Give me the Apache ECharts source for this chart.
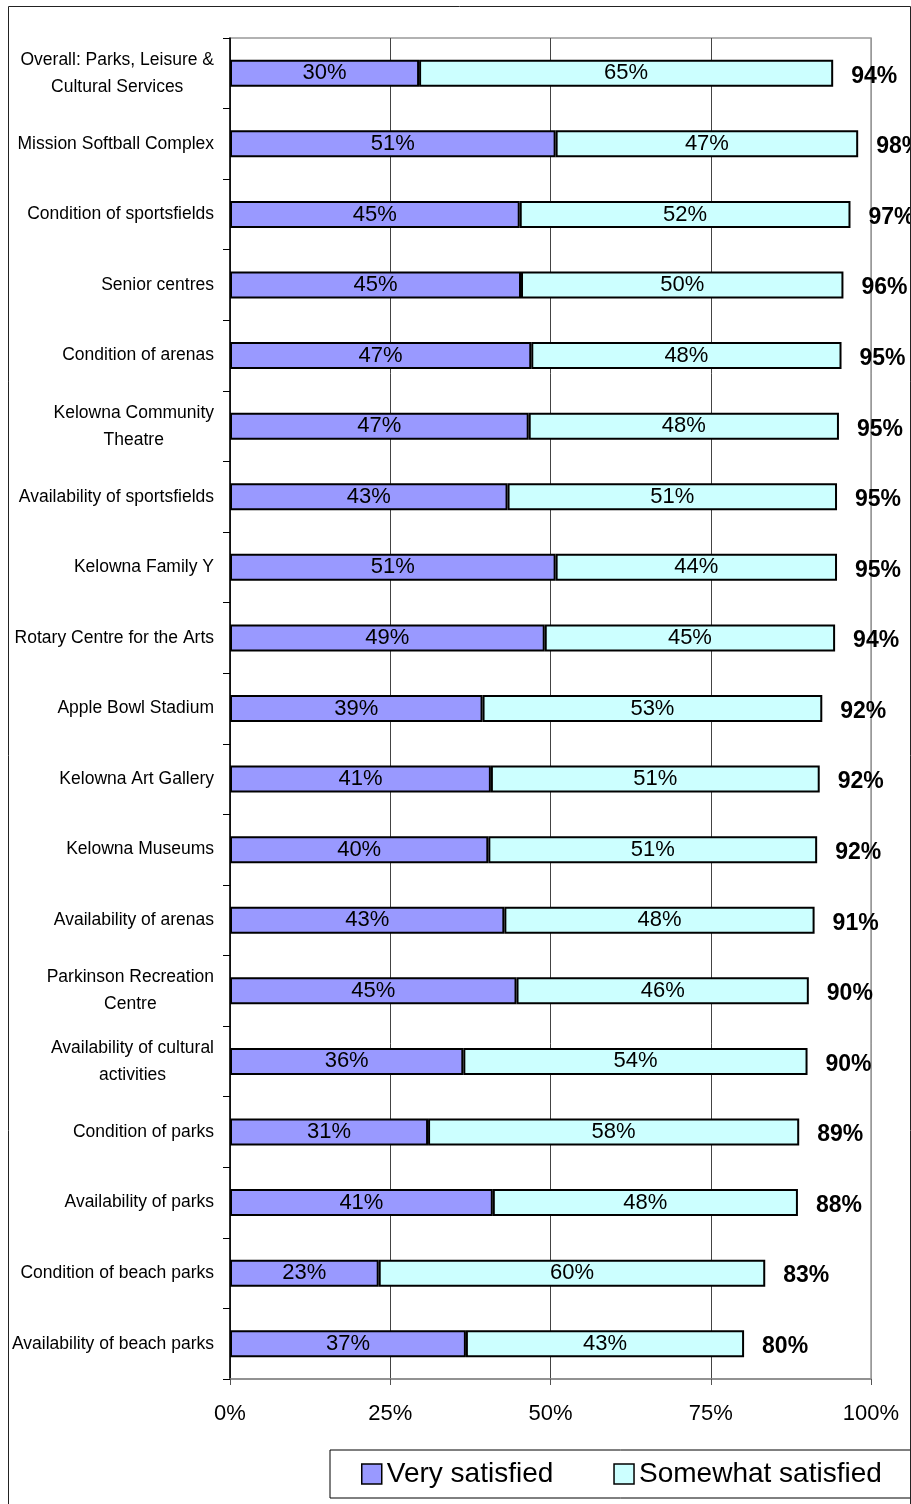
<!DOCTYPE html>
<html>
<head>
<meta charset="utf-8">
<script src="https://cdn.jsdelivr.net/npm/echarts@6/dist/echarts.min.js"></script>
<style>
  html, body { margin: 0; padding: 0; background: #fff; }
  #chart { width: 911px; height: 1504px; }
</style>
</head>
<body>
<div id="chart"></div>
<script>
// categories, top to bottom
const categories = [
  'Overall: Parks, Leisure &\nCultural Services',
  'Mission Softball Complex',
  'Condition of sportsfields',
  'Senior centres',
  'Condition of arenas',
  'Kelowna Community\nTheatre',
  'Availability of sportsfields',
  'Kelowna Family Y',
  'Rotary Centre for the Arts',
  'Apple Bowl Stadium',
  'Kelowna Art Gallery',
  'Kelowna Museums',
  'Availability of arenas',
  'Parkinson Recreation\nCentre',
  'Availability of cultural\nactivities',
  'Condition of parks',
  'Availability of parks',
  'Condition of beach parks',
  'Availability of beach parks'
];

// bar lengths (percent)
const verySatisfied = [29.5, 50.8, 45.2, 45.4, 47.0, 46.6, 43.3, 50.8, 49.1, 39.4,
  40.7, 40.3, 42.8, 44.7, 36.4, 30.9, 41.0, 23.2, 36.8];
const somewhatSatisfied = [64.6, 47.2, 51.6, 50.3, 48.4, 48.4, 51.4, 43.9, 45.3, 53.0,
  51.3, 51.3, 48.4, 45.6, 53.7, 57.9, 47.6, 60.3, 43.4];

// printed labels
const veryLabels = [30, 51, 45, 45, 47, 47, 43, 51, 49, 39, 41, 40, 43, 45, 36, 31, 41, 23, 37];
const somewhatLabels = [65, 47, 52, 50, 48, 48, 51, 44, 45, 53, 51, 51, 48, 46, 54, 58, 48, 60, 43];
const totalLabels = [94, 98, 97, 96, 95, 95, 95, 95, 94, 92, 92, 92, 91, 90, 90, 89, 88, 83, 80];

const xTicks = [0, 25, 50, 75, 100];

const FONT = "'Liberation Sans', Arial, sans-serif";

const totals = verySatisfied.map((v, i) => v + somewhatSatisfied[i]);

const chart = echarts.init(document.getElementById('chart'), null, {renderer: 'canvas'});

chart.setOption({
  animation: false,
  backgroundColor: '#fff',
  grid: {
    left: 230, right: 40, top: 38, bottom: 125,
    show: true, borderColor: '#999', borderWidth: 1.5,
    containLabel: false, outerBoundsMode: 'none'
  },
  xAxis: {
    type: 'value',
    min: xTicks[0],
    max: xTicks[xTicks.length - 1],
    interval: 25,
    axisLine: {show: true, lineStyle: {color: '#888', width: 1.5}},
    axisTick: {show: true, length: 6, lineStyle: {color: '#555'}},
    axisLabel: {
      formatter: '{value}%', margin: 24,
      color: '#000', fontFamily: FONT, fontSize: 22
    },
    splitLine: {show: true, lineStyle: {color: ['#444', '#444', '#444', '#444', '#999'], width: 1}}
  },
  yAxis: {
    type: 'category',
    data: categories,
    inverse: true,
    axisLine: {show: true, lineStyle: {color: '#000', width: 1.5}},
    axisTick: {show: true, length: 7, lineStyle: {color: '#000', width: 1}},
    axisLabel: {
      margin: 16,
      color: '#000',
      fontFamily: FONT,
      fontSize: 17.5,
      lineHeight: 27,
      formatter: v => v.split('\n').map(s => '{c|' + s + '}').join('\n'),
      rich: {
        c: {align: 'center', fontFamily: FONT, fontSize: 17.5, lineHeight: 27, color: '#000'}
      }
    },
    splitLine: {show: false}
  },
  legend: {
    data: ['Very satisfied', 'Somewhat satisfied'],
    left: 330, top: 1450,
    orient: 'horizontal',
    icon: 'rect',
    itemWidth: 20, itemHeight: 20, itemGap: 60,
    borderColor: '#000', borderWidth: 1,
    padding: [10, 29, 10, 31],
    itemStyle: {borderColor: '#000', borderWidth: 1.5},
    textStyle: {fontFamily: FONT, fontSize: 28, color: '#000'}
  },
  series: [
    {
      name: 'Very satisfied',
      type: 'bar',
      stack: 'sat',
      barWidth: 27,
      data: verySatisfied,
      itemStyle: {color: '#9999FF', borderColor: '#000', borderWidth: 2},
      label: {
        show: true, position: 'inside',
        formatter: p => veryLabels[p.dataIndex] + '%',
        color: '#000', fontFamily: FONT, fontSize: 22
      }
    },
    {
      name: 'Somewhat satisfied',
      type: 'bar',
      stack: 'sat',
      barWidth: 27,
      data: somewhatSatisfied,
      itemStyle: {color: '#CCFFFF', borderColor: '#000', borderWidth: 2},
      label: {
        show: true, position: 'inside',
        formatter: p => somewhatLabels[p.dataIndex] + '%',
        color: '#000', fontFamily: FONT, fontSize: 22
      }
    },
    {
      name: 'Total',
      type: 'bar',
      barWidth: 27,
      barGap: '-100%',
      silent: true,
      z: 1,
      data: totals,
      itemStyle: {color: 'rgba(0,0,0,0)', borderWidth: 0},
      label: {
        show: true, position: 'right', distance: 18, offset: [0, 3],
        formatter: p => totalLabels[p.dataIndex] + '%',
        color: '#000', fontFamily: FONT, fontSize: 23, fontWeight: 'bold'
      }
    }
  ],
  graphic: [
    {
      type: 'rect',
      silent: true,
      z: 100,
      shape: {x: 8.5, y: 6.5, width: 902, height: 1500},
      style: {fill: 'none', stroke: '#222', lineWidth: 1}
    }
  ]
});
</script>
</body>
</html>
